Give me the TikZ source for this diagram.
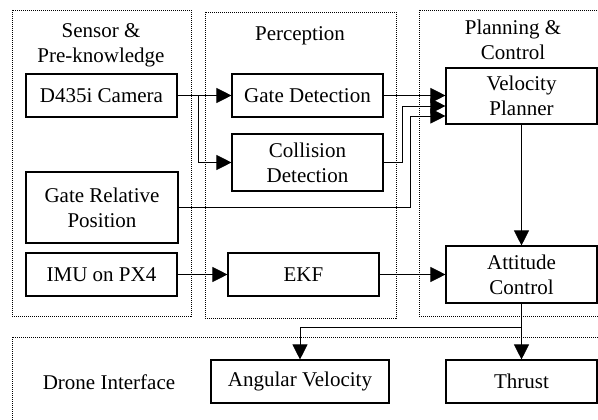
\documentclass[tikz,border=0pt]{standalone}
\usepackage{fontspec}
\setmainfont{Liberation Serif}
\usetikzlibrary{arrows.meta,calc}
\begin{document}
\begin{tikzpicture}[x=1pt,y=-1pt,
  font=\fontsize{21}{25}\selectfont,
  blk/.style={draw,line width=1.1pt,rectangle,align=center,inner sep=0pt},
  lbl/.style={align=center,inner sep=0pt},
  frm/.style={draw,line width=0.8pt,dash pattern=on 1pt off 1pt},
  arr/.style={line width=0.8pt,-{Triangle[length=15pt,width=15pt]}},
  ln/.style={line width=0.8pt}]
\useasboundingbox (0,0) rectangle (598,420);
% frames
\draw[frm] (12,10) rectangle (191,316);
\draw[frm] (205,12) rectangle (396,318);
\draw[frm] (419,10) rectangle (612,316);
\draw[frm] (12,337) rectangle (612,432);
% frame labels
\node[lbl] (tsens) at (101,45) {Sensor \&\\Pre-knowledge};
\node[lbl] (tperc) at (300,36) {Perception};
\node[lbl] (tplan) at (513,40) {Planning \&\\Control};
\node[lbl] (tdrone) at (109,382) {Drone Interface};
% blocks
\node[blk,minimum width=151,minimum height=43] (cam) at (101.5,95.5) {D435i Camera};
\node[blk,minimum width=152,minimum height=71] (grp) at (102,207.5) {Gate Relative\\Position};
\node[blk,minimum width=151,minimum height=43] (imu) at (101.5,274.5) {IMU on PX4};
\node[blk,minimum width=151,minimum height=43] (gd) at (307.5,95.5) {Gate Detection};
\node[blk,minimum width=151,minimum height=57] (cd) at (307.5,162.5) {Collision\\Detection};
\node[blk,minimum width=151,minimum height=43] (ekf) at (303.5,274.5) {EKF};
\node[blk,minimum width=151,minimum height=56] (vp) at (521.5,96) {Velocity\\Planner};
\node[blk,minimum width=151,minimum height=57] (ac) at (521.5,274.5) {Attitude\\Control};
\node[blk,minimum width=178,minimum height=43] (av) at (300,381.5) {Angular Velocity};
\node[blk,minimum width=151,minimum height=43] (th) at (521.5,381.5) {Thrust};
% connectors
\draw[arr] (cam.east) -- (gd.west);
\draw[arr] ($(cam.east)+(21,0)$) |- (cd.west);
\draw[arr] (gd.east) -- (gd.east -| vp.west);
\draw[arr] (cd.east) -- ++(19,0) |- ($(vp.west)+(0,10)$);
\draw[arr] (grp.east) -- ++(232,0) |- ($(vp.west)+(0,20)$);
\draw[arr] (vp.south) -- (ac.north);
\draw[arr] (imu.east) -- (ekf.west);
\draw[arr] (ekf.east) -- (ac.west);
\draw[arr] (ac.south) -- (th.north);
\draw[arr] (ac.south) -- ++(0,23.5) -| (av.north);
\end{tikzpicture}
\end{document}
